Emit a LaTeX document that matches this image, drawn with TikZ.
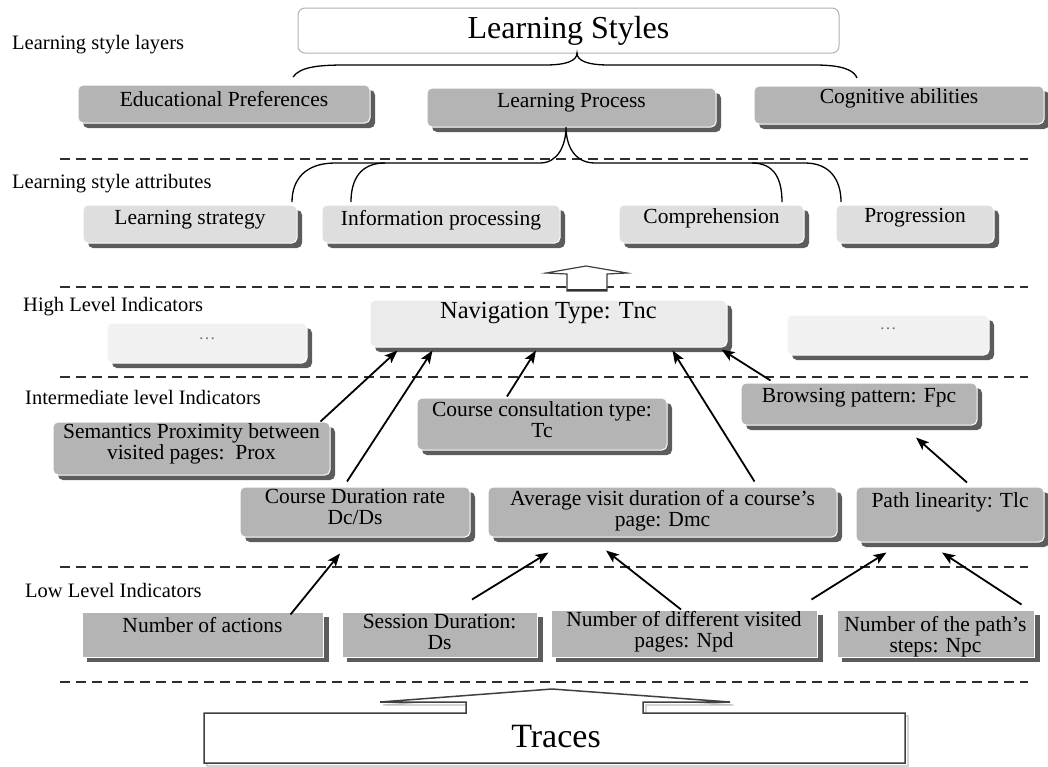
\documentclass[tikz,border=0pt]{standalone}
\usepackage{fontspec}
\setmainfont{Liberation Serif}
\usetikzlibrary{calc,shadows,arrows.meta}
\definecolor{boxdark}{HTML}{B4B4B4}
\definecolor{boxlight}{HTML}{DEDEDE}
\definecolor{boxnav}{HTML}{EBEBEB}
\definecolor{boxdots}{HTML}{F1F1F1}
\definecolor{shadowc}{HTML}{5C5C5C}
\definecolor{sepc}{HTML}{2E2E2E}
\newcommand\rz[2]{\raisebox{#1pt}[\height][\depth]{#2}}
\newcommand\tw[2]{\begin{tabular}{@{}c@{}}#1\\#2\end{tabular}}
\begin{document}
\begin{tikzpicture}[x=1pt,y=-1pt,
  basebox/.style={draw=white, line width=1pt, inner sep=0pt,
    font=\fontsize{21.5}{21}\selectfont,
    general shadow={fill=shadowc, shadow xshift=5pt, shadow yshift=-5pt}},
  rbox/.style={basebox, rounded corners=5pt},
  dkbox/.style={rbox, fill=boxdark},
  ltbox/.style={rbox, fill=boxlight},
  navbox/.style={rbox, fill=boxnav, font=\fontsize{24.5}{25}\selectfont},
  dotbox/.style={rbox, fill=boxdots, font=\fontsize{17}{17}\selectfont, text=black!55},
  sqbox/.style={basebox, fill=boxdark, general shadow={fill=shadowc, shadow xshift=6pt, shadow yshift=-5pt}},
  lab/.style={anchor=west, inner sep=0pt, font=\fontsize{20.5}{21}\selectfont},
  sep/.style={draw=sepc, line width=1.8pt, dash pattern=on 10pt off 6pt},
  brace/.style={draw=black, line width=1.3pt},
  arr/.style={draw=black, line width=1.8pt, -{Stealth[length=13pt,width=10pt,inset=3pt]}}
]
\useasboundingbox (0,0) rectangle (1048,766);
\fill[white] (0,0) rectangle (1048,766);

% separators
\foreach \yy in {159,287,377,567,682} \draw[sep] (60,\yy) -- (1028,\yy);

% layer labels
\node[lab] (lab1) at (12,45) {Learning style layers};
\node[lab] (lab2) at (12,184) {Learning style attributes};
\node[lab] (lab3) at (23,307) {High Level Indicators};
\node[lab] (lab4) at (25,397) {Intermediate level Indicators};
\node[lab] (lab5) at (25,590) {Low Level Indicators};

% title
\node[draw=black!30, line width=1pt, rounded corners=7pt, fill=white, inner sep=0pt,
  minimum width=541, minimum height=45, font=\fontsize{32}{32}\selectfont] (title) at (568.5,30.5) {Learning Styles};

% layers
\node[dkbox, minimum width=292, minimum height=38] (edu) at (224,104) {\rz{5}{Educational Preferences}};
\node[dkbox, minimum width=289, minimum height=39] (lp) at (571.5,107.5) {\rz{5}{Learning Process}};
\node[dkbox, minimum width=290, minimum height=38] (cog) at (899,105) {\rz{7}{Cognitive abilities}};

% attributes
\node[ltbox, minimum width=214, minimum height=38] (ls) at (190,224) {\rz{4}{Learning strategy}};
\node[ltbox, minimum width=238, minimum height=38] (ip) at (441,224) {\rz{4}{Information processing}};
\node[ltbox, minimum width=185, minimum height=38] (comp) at (711.5,224) {\rz{6}{Comprehension}};
\node[ltbox, minimum width=158, minimum height=38] (prog) at (915,224) {\rz{6}{Progression}};

% high level
\node[navbox, minimum width=357, minimum height=47] (nav) at (548.5,323.5) {\rz{10}{Navigation Type: Tnc}};
\node[dotbox, minimum width=200, minimum height=40] (dotsl) at (207,343) {\rz{4}{\ldots}};
\node[dotbox, minimum width=202, minimum height=40] (dotsr) at (888,335) {\rz{6}{\ldots}};

% intermediate
\node[dkbox, minimum width=277, minimum height=53] (prox) at (191.5,448.5) {\rz{3.5}{\tw{Semantics Proximity between}{visited pages:~~Prox}}};
\node[dkbox, minimum width=250, minimum height=52] (cct) at (542,424) {\rz{1.5}{\tw{Course consultation type:}{Tc}}};
\node[dkbox, minimum width=236, minimum height=42] (bp) at (859,404) {\rz{6}{Browsing pattern: Fpc}};
\node[dkbox, minimum width=230, minimum height=50] (cdr) at (355,512) {\rz{2}{\tw{Course Duration rate}{Dc/Ds}}};
\node[dkbox, minimum width=349, minimum height=50] (avd) at (662.5,512) {\rz{0.5}{\tw{Average visit duration of a course's}{page: Dmc}}};
\node[dkbox, minimum width=188, minimum height=55] (pl) at (950,514.5) {\rz{12.5}{Path linearity: Tlc}};

% low level
\node[sqbox, minimum width=241, minimum height=45] (na) at (202.5,634.5) {\rz{9.5}{Number of actions}};
\node[sqbox, minimum width=195, minimum height=45] (sd) at (439.5,634.5) {\rz{0}{\tw{Session Duration:}{Ds}}};
\node[sqbox, minimum width=266, minimum height=47] (npd) at (684,633.5) {\rz{1}{\tw{Number of different visited}{pages: Npd}}};
\node[sqbox, minimum width=197, minimum height=47] (nps) at (935.5,633.5) {\rz{-4}{\tw{Number of the path's}{steps: Npc}}};

% brace under title
\draw[brace] (293,77) .. controls (300,67) and (318,65) .. (345,65) -- (545,65)
  .. controls (566,65) and (577,61) .. (577,53)
  .. controls (577,61) and (588,65) .. (609,65) -- (815,65)
  .. controls (842,65) and (854,70) .. (857,78);

% brace under Learning Process
\draw[brace] (292,202) .. controls (292,180) and (305,163) .. (335,163) -- (540,163)
  .. controls (558,163) and (566,145) .. (566,127)
  .. controls (566,145) and (574,163) .. (595,163) -- (752,163)
  .. controls (775,163) and (782,180) .. (782,202);
\draw[brace] (351,202) .. controls (351,180) and (360,163) .. (385,163);
\draw[brace] (752,163) -- (805,163) .. controls (830,163) and (841,180) .. (841,202);

% hollow block arrow
\draw[line width=1.2pt, draw=black!75, fill=white, line join=miter]
  (567,291) -- (567,274) -- (546,273) -- (586,266) -- (627,273) -- (607,274) -- (607,291) -- cycle;
\draw[line width=2.4pt, draw=black!80] (567,290) -- (607,290);

% arrows into Navigation Type
\draw[arr] ($(prox.north east)+(-10,0)$) -- ($(nav.south west)+(28,3)$);
\draw[arr] ($(cdr.north)+(-8,-5)$) -- ($(nav.south west)+(63,3)$);
\draw[arr] ($(cct.north)+(-35,-1)$) -- ($(nav.south)+(-12.5,3)$);
\draw[arr] ($(avd.north east)+(-83,-5)$) -- ($(nav.south east)+(-55,3)$);
\draw[arr] ($(bp.north west)+(30,-2)$) -- ($(nav.south east)+(-6,2)$);
\draw[arr] ($(pl.north)+(17,-4)$) -- ($(bp.south)+(57,12)$);

% arrows from low level
\draw[arr] ($(na.north east)+(-33,3)$) -- ($(cdr.south)+(-15,16)$);
\draw[arr] ($(sd.north)+(32.5,-12)$) -- ($(avd.south west)+(61,15)$);
\draw[arr] ($(npd.north)+(-3,0)$) -- ($(avd.south)+(-56.5,13)$);
\draw[arr] ($(npd.north east)+(-6,-10)$) -- ($(pl.south west)+(31,10)$);
\draw[arr] ($(nps.north east)+(-13,-5)$) -- ($(pl.south)+(-8,10)$);

% Traces
\draw[black!25, line width=1.2pt, shift={(3,3)}]
  (204,763) -- (204,713) -- (466,713) -- (466,702) -- (380,702) -- (552,689) -- (730,702)
  -- (643,702) -- (643,713) -- (905,713) -- (905,763) -- cycle;
\draw[black!75, line width=1.5pt, fill=white]
  (204,763) -- (204,713) -- (466,713) -- (466,702) -- (380,702) -- (552,689) -- (730,702)
  -- (643,702) -- (643,713) -- (905,713) -- (905,763) -- cycle;
\node[inner sep=0pt, font=\fontsize{34}{34}\selectfont] (traces) at (556,737) {Traces};
\end{tikzpicture}
\end{document}
